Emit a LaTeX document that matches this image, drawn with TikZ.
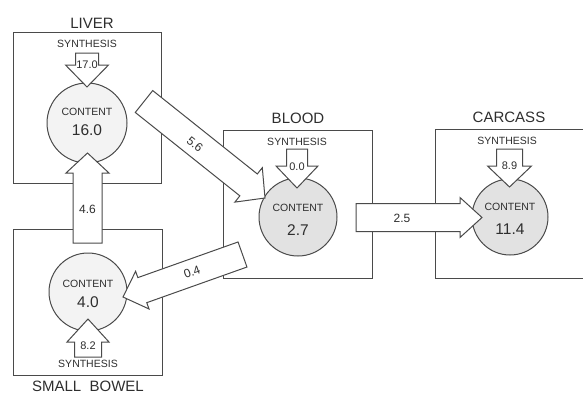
\documentclass[tikz,border=0pt]{standalone}
\usepackage{fontspec}
\setmainfont{Liberation Sans}
\usetikzlibrary{calc}
\definecolor{linec}{HTML}{4A4A4A}
\definecolor{txt}{HTML}{2E2E2E}
\definecolor{poolA}{HTML}{F3F3F3}
\definecolor{poolB}{HTML}{E2E2E2}
\tikzset{
  box/.style={draw=linec, line width=1pt},
  pool/.style={circle, draw=linec, line width=1pt, minimum size=78pt, inner sep=0pt},
  fat/.style={draw=linec, line width=1pt, fill=white, line join=miter},
  organ/.style={font=\fontsize{15}{15}\selectfont, text=txt, inner sep=0pt},
  syn/.style={font=\fontsize{10.5}{10.5}\selectfont, text=txt, inner sep=0pt},
  cont/.style={font=\fontsize{10.5}{10.5}\selectfont, text=txt, inner sep=0pt},
  amount/.style={font=\fontsize{15.5}{15.5}\selectfont, text=txt, inner sep=0pt},
  synval/.style={font=\fontsize{11}{11}\selectfont, text=txt, inner sep=0pt},
  flowval/.style={font=\fontsize{12}{12}\selectfont, text=txt, inner sep=0pt}
}
% fat arrow: from, to, body half width, head half width, head length
\newcommand{\fatarrow}[5]{%
  \coordinate (hb) at ($(#2)!#5!(#1)$);
  \draw[fat] ($(#1)!#3!90:(#2)$) -- ($(hb)!#3!90:(#2)$) -- ($(hb)!#4!90:(#2)$) -- (#2)
    -- ($(hb)!#4!-90:(#2)$) -- ($(hb)!#3!-90:(#2)$) -- ($(#1)!#3!-90:(#2)$) -- cycle;}
\begin{document}
\begin{tikzpicture}[x=1pt,y=-1pt]
\useasboundingbox (0,0) rectangle (583,394);
\clip (0,0) rectangle (583,394);
% boxes
\draw[box] (13,32) rectangle (161,183);
\draw[box] (13,229) rectangle (162,375);
\draw[box] (223,130) rectangle (372,278);
\draw[box] (600,129) -- (435,129) -- (435,278) -- (600,278);
% titles
\node[organ] (tLiver) at (92,23) {LIVER};
\node[organ] (tBowel) at (88,386.5) {SMALL\ \ BOWEL};
\node[organ] (tBlood) at (298,118) {BLOOD};
\node[organ] (tCarc) at (509,117) {CARCASS};
% pools
\node[pool, fill=poolA, minimum size=80pt] (liver) at (87,123) {};
\node[pool, fill=poolA] (bowel) at (88,292) {};
\node[pool, fill=poolB] (blood) at (298,217) {};
\node[pool, fill=poolB, minimum size=76pt] (carc) at (510,217) {};
% arrow end points
\coordinate (lsT) at (87,53);   \coordinate (lsH) at (87,87);
\coordinate (bsT) at (88,357);  \coordinate (bsH) at (88,319);
\coordinate (osT) at (297,149); \coordinate (osH) at (297,188);
\coordinate (csT) at (509.5,149); \coordinate (csH) at (509.5,187);
\coordinate (f46T) at (87.5,243); \coordinate (f46H) at (87.5,153);
\coordinate (f25T) at (356,217.5); \coordinate (f25H) at (482,217.5);
\coordinate (f56T) at (144,101.5); \coordinate (f56H) at (265,198);
\coordinate (f04T) at (242.5,254.5); \coordinate (f04H) at (123,297);
% arrows
\fatarrow{lsT}{lsH}{11.5pt}{21.5pt}{22pt}
\fatarrow{bsT}{bsH}{13.5pt}{21pt}{23pt}
\fatarrow{osT}{osH}{10.5pt}{21pt}{22pt}
\fatarrow{csT}{csH}{13pt}{22pt}{21pt}
\fatarrow{f46T}{f46H}{14.5pt}{21.5pt}{20pt}
\fatarrow{f25T}{f25H}{14pt}{20pt}{22pt}
\fatarrow{f56T}{f56H}{14pt}{22pt}{21pt}
\fatarrow{f04T}{f04H}{13.3pt}{20pt}{20.5pt}
% synthesis labels
\node[syn] (sLiver) at (87,44) {SYNTHESIS};
\node[syn] (sBowel) at (88,364) {SYNTHESIS};
\node[syn] (sBlood) at (297,142) {SYNTHESIS};
\node[syn] (sCarc) at (507,141) {SYNTHESIS};
\node[synval] (vLiver) at (87,65) {17.0};
\node[synval] (vBowel) at (88,346) {8.2};
\node[synval] (vBlood) at (297,167) {0.0};
\node[synval] (vCarc) at (509.5,166) {8.9};
% contents
\node[cont] (cLiver) at (87,112) {CONTENT};
\node[amount] (aLiver) at (87,130) {16.0};
\node[cont] (cBowel) at (88,284) {CONTENT};
\node[amount] (aBowel) at (88,302) {4.0};
\node[cont] (cBlood) at (298,208) {CONTENT};
\node[amount] (aBlood) at (298,230) {2.7};
\node[cont] (cCarc) at (510,207) {CONTENT};
\node[amount] (aCarc) at (510,229) {11.4};
% flow labels
\node[flowval] (l46) at (87.5,209) {4.6};
\node[flowval] (l25) at (402,218) {2.5};
\node[flowval, rotate=-38.7] (l56) at (195,144) {5.6};
\node[flowval, rotate=19.6] (l04) at (192,272) {0.4};
\end{tikzpicture}
\end{document}
